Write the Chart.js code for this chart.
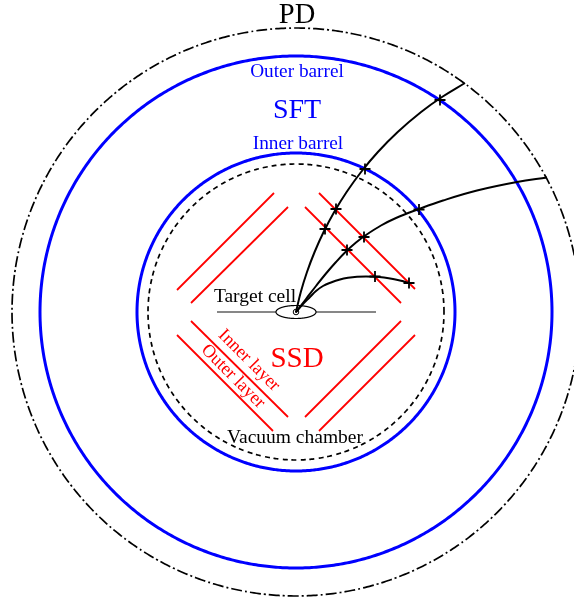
<!DOCTYPE html>
<html><head><meta charset="utf-8">
<style>html,body{margin:0;padding:0;background:#fff}canvas{display:block}</style>
<script src="https://cdn.jsdelivr.net/npm/chart.js@4"></script>
</head><body><canvas id="c" width="574" height="601" style="width:574px;height:601px"></canvas>
<script>
// Detector cross-section, coordinates relative to the target centre (y up).
const pdRadius = 284, outerBarrelRadius = 256, innerBarrelRadius = 159, vacuumRadius = 148;
const targetCellRadii = [20, 6.5];
const beamLeft = [[-79,0],[-20,0]];
const beamRight = [[20,0],[80,0]];
const ssdInnerLayer = [
  [[-105,9],[-8,105]], [[9,105],[105,9]], [[-105,-9],[-8,-105]], [[9,-105],[105,-9]]
];
const ssdOuterLayer = [
  [[-119,22],[-22,119]], [[23,119],[119,23]], [[-119,-23],[-23,-119]], [[23,-119],[119,-23]]
];
const track1 = [[0,0],[4.8,20],[11,40],[18.6,60],[27.6,80],[38.2,100],[50.6,120],[65.1,140],[81.9,160],[101.7,180],[125.1,200],[146,215],[169,229]];
const track2 = [[0,0],[10,13],[20,26],[30,38.5],[40,50],[50,60.5],[60,69.5],[70,77],[85,86.5],[100,94],[123,103],[147,111.5],[181,121.5],[221,130],[251,134.5]];
const track3 = [[0,0],[7,8],[14,15],[20,21],[27,26],[35,29.5],[44,32.5],[52,34.2],[61,35.3],[70,35.6],[79,35.3],[88,34.4],[97,33],[105,31.2],[113,29]];
const hits = [[29,83],[40,103],[69,143],[144,212],[51,62],[68,75],[123,102.5],[79,35.5],[113,29]];
const labelTexts = ['PD','SFT','Outer barrel','Inner barrel','Target cell','Vacuum chamber','SSD','Inner layer','Outer layer'];

const labelStyle = [
  {x:1,y:289,base:'alphabetic',size:28.5,color:'#000',rot:0},
  {x:1,y:194,base:'alphabetic',size:28,color:'#00f',rot:0},
  {x:1,y:235,base:'alphabetic',size:19.3,color:'#00f',rot:0},
  {x:2,y:163,base:'alphabetic',size:19.3,color:'#00f',rot:0},
  {x:-41,y:10,base:'alphabetic',size:19.5,color:'#000',rot:0},
  {x:-1,y:-131,base:'alphabetic',size:19.5,color:'#000',rot:0},
  {x:1,y:-55,base:'alphabetic',size:29,color:'#f00',rot:0},
  {x:-47,y:-48.5,base:'middle',size:18.2,color:'#f00',rot:45},
  {x:-63,y:-64.5,base:'middle',size:18.2,color:'#f00',rot:45}
];
const toPts = a => a.map(p => ({x:p[0], y:p[1]}));
const outline = (rx, ry) => { const o=[]; for(let i=0;i<=360;i+=1){const t=i*Math.PI/180; o.push({x:rx*Math.cos(t),y:ry*Math.sin(t)});} return o; };
const ring = (r,color,w,dash) => ({data:outline(r,r),showLine:true,borderColor:color,borderWidth:w,borderDash:dash||[],pointRadius:0,tension:0.001,fill:false});
const seg = (a,color,w) => ({data:toPts(a),showLine:true,borderColor:color,borderWidth:w,pointRadius:0,tension:0,fill:false});
const trk = a => ({data:toPts(a),showLine:true,borderColor:'#000',borderWidth:2,pointRadius:0,tension:0.4,fill:false});

// Chart.js paints the first dataset last, so the list runs from top layer to bottom layer.
const datasets = [
  {data:[{x:0,y:0}],showLine:false,pointStyle:'circle',pointRadius:0.9,pointBackgroundColor:'#000',pointBorderColor:'#000',pointBorderWidth:0},
  {data:[{x:0,y:0}],showLine:false,pointStyle:'circle',pointRadius:2.8,pointBackgroundColor:'rgba(0,0,0,0)',pointBorderColor:'#000',pointBorderWidth:1},
  {data:toPts(hits),showLine:false,pointStyle:'cross',pointRadius:5.5,pointBorderColor:'#000',pointBorderWidth:1.8},
  trk(track1),trk(track2),trk(track3),
  {data:outline(targetCellRadii[0],targetCellRadii[1]),showLine:true,borderColor:'#000',borderWidth:1.2,pointRadius:0,tension:0.001},
  seg(beamLeft,'#111',1.2), seg(beamRight,'#111',1.2),
  ...ssdInnerLayer.map(s=>seg(s,'#f00',1.8)),
  ...ssdOuterLayer.map(s=>seg(s,'#f00',1.8)),
  ring(vacuumRadius,'#000',1.7,[5,4]),
  ring(innerBarrelRadius,'#00f',3),
  ring(outerBarrelRadius,'#00f',3),
  ring(pdRadius,'#000',1.7,[11,3,2,3])
];
const textPlugin = {id:'text',afterDatasetsDraw(ch){
  const {ctx,scales:{x,y}} = ch;
  labelTexts.forEach((t,i)=>{const s=labelStyle[i];
    ctx.save();
    ctx.translate(x.getPixelForValue(s.x),y.getPixelForValue(s.y));
    ctx.rotate(s.rot*Math.PI/180);
    ctx.font=s.size+'px "Liberation Serif"';ctx.fillStyle=s.color;ctx.textAlign='center';ctx.textBaseline=s.base;
    ctx.fillText(t,0,0);ctx.restore();});
}};
new Chart(document.getElementById('c'),{type:'scatter',data:{datasets},plugins:[textPlugin],options:{
  responsive:false,animation:false,events:[],
  layout:{padding:0,autoPadding:false},
  plugins:{legend:{display:false},tooltip:{enabled:false},title:{display:false}},
  elements:{line:{borderCapStyle:'butt'}},
  scales:{x:{type:'linear',display:false,min:-296,max:278},y:{type:'linear',display:false,min:-289,max:312}}
}});
</script></body></html>
